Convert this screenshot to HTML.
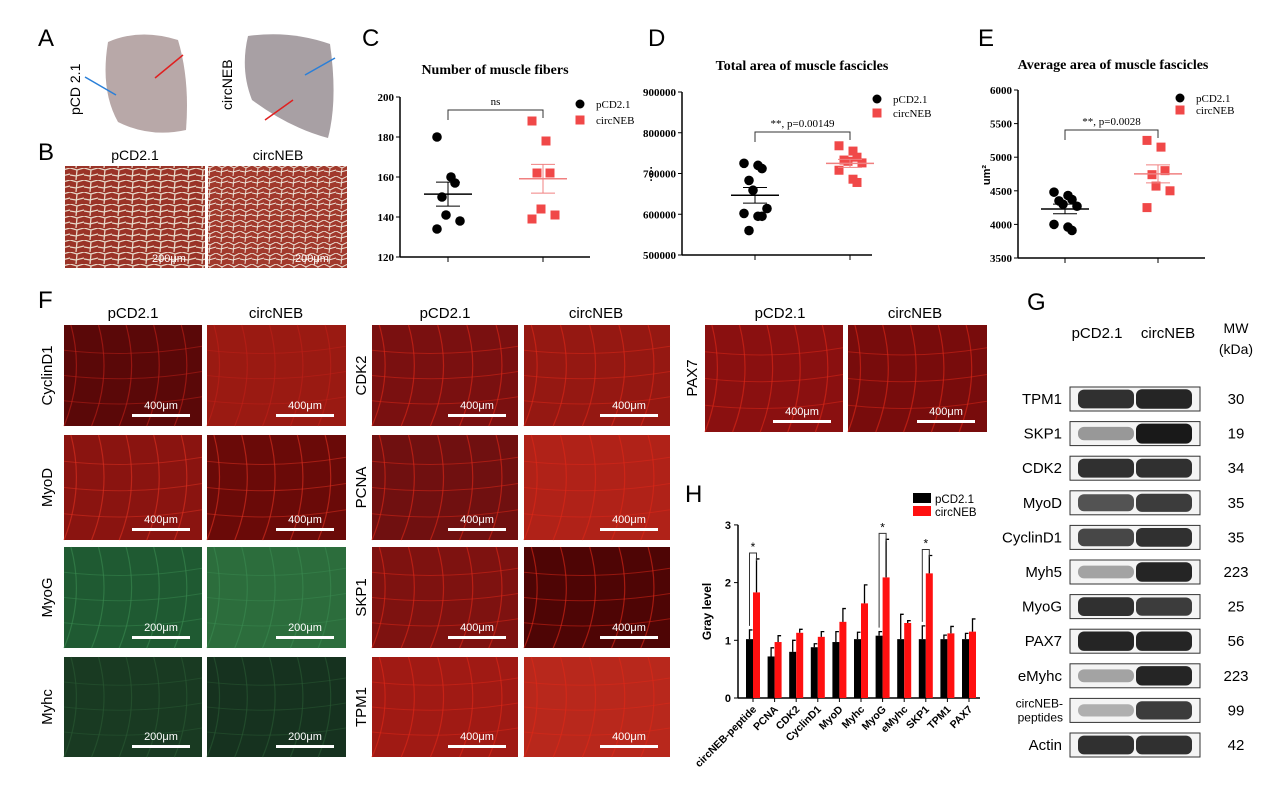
<!DOCTYPE html>
<html><head><meta charset="utf-8">
<style>
body{margin:0;background:#fff;width:1268px;height:803px;overflow:hidden;font-family:"Liberation Sans",sans-serif}
svg{position:absolute;left:0;top:0}
</style></head>
<body>
<svg id="fig" width="1268" height="803" viewBox="0 0 1268 803" xmlns="http://www.w3.org/2000/svg">
<defs>
<pattern id="histo" width="14" height="12" patternUnits="userSpaceOnUse">
<rect width="14" height="12" fill="#9a3327"/>
<path d="M0 0 L7 2 L14 0 M7 2 L6 12 M0 7 L6 8 L14 6" stroke="#e8d8c8" stroke-width="1.3" fill="none"/>
</pattern>
<pattern id="histo2" width="12" height="11" patternUnits="userSpaceOnUse">
<rect width="12" height="11" fill="#a1392c"/>
<path d="M0 0 L6 3 L12 0 M6 3 L5 11 M0 6 L5 7 L12 5" stroke="#eee4d8" stroke-width="1" fill="none"/>
</pattern>
</defs>
<g id="root"></g>
</svg>
<script>
// ---------- Panel C data ----------
const cPCD = [180,160,157,150,141,138,134];
const cNEB = [188,178,162,162,144,141,139];
const cTicks = [120,140,160,180,200];
// ---------- Panel D data ----------
const dPCD = [725,720,712,683,659,614,602,595,595,560];
const dNEB = [768,755,740,733,730,726,708,686,678];
const dTicks = [500000,600000,700000,800000,900000];
// ---------- Panel E data ----------
const ePCD = [4480,4430,4370,4350,4300,4270,4000,3960,3910];
const eNEB = [5250,5150,4800,4740,4570,4500,4250];
const eTicks = [3500,4000,4500,5000,5500,6000];
// ---------- Panel H data ----------
const hCats = ["circNEB-peptide","PCNA","CDK2","CyclinD1","MyoD","Myhc","MyoG","eMyhc","SKP1","TPM1","PAX7"];
const hPCD = [1.02,0.72,0.80,0.88,0.97,1.02,1.08,1.02,1.02,1.02,1.02];
const hPCDerr = [0.16,0.15,0.20,0.06,0.18,0.12,0.07,0.43,0.23,0.07,0.10];
const hNEB = [1.83,0.97,1.13,1.06,1.32,1.64,2.09,1.30,2.16,1.12,1.15];
const hNEBerr = [0.58,0.11,0.06,0.09,0.23,0.32,0.66,0.04,0.31,0.12,0.22];
const hTicks = [0,1,2,3];
// ---------- Panel G data ----------
const gProteins = ["TPM1","SKP1","CDK2","MyoD","CyclinD1","Myh5","MyoG","PAX7","eMyhc","circNEB-peptides","Actin"];
const gMW = ["30","19","34","35","35","223","25","56","223","99","42"];
const gIntPCD = [0.9,0.45,0.9,0.75,0.8,0.4,0.9,0.95,0.4,0.35,0.9];
const gIntNEB = [0.95,1.0,0.9,0.85,0.9,0.95,0.85,0.95,0.95,0.85,0.9];

const NS="http://www.w3.org/2000/svg";
const root=document.getElementById('root');
function el(tag,attrs,parent,text){const e=document.createElementNS(NS,tag);for(const k in attrs)e.setAttribute(k,attrs[k]);if(text!==undefined)e.textContent=text;(parent||root).appendChild(e);return e;}
function grp(name,parent){const g=el('g',{},parent);


return g;}

// panel letters
[["A",38,46],["B",38,160],["C",362,46],["D",648,46],["E",978,46],["F",38,308],["G",1027,310],["H",685,502]].forEach(p=>{
 const t=el('text',{x:p[1],y:p[2],'font-size':24,fill:'#000'},root,p[0]);
 
 
});

// ---------- Panel A photos ----------
const gA=grp('panel-a-photos');
el('path',{d:'M108 42 Q140 28 178 40 Q190 80 186 130 Q150 138 118 122 Q100 90 108 42Z',fill:'#b8a8a8'},gA);
el('path',{d:'M248 36 Q290 30 330 44 Q338 100 328 138 Q290 128 252 100 Q240 70 248 36Z',fill:'#a8a0a4'},gA);
el('line',{x1:85,y1:77,x2:116,y2:95,stroke:'#2a7fd8','stroke-width':1.5},gA);
el('line',{x1:183,y1:55,x2:155,y2:78,stroke:'#e02020','stroke-width':1.5},gA);
el('line',{x1:335,y1:58,x2:305,y2:75,stroke:'#2a7fd8','stroke-width':1.5},gA);
el('line',{x1:265,y1:120,x2:293,y2:100,stroke:'#e02020','stroke-width':1.5},gA);
el('text',{x:0,y:0,'font-size':14,transform:'translate(80,115) rotate(-90)'},gA,'pCD 2.1');
el('text',{x:0,y:0,'font-size':14,transform:'translate(232,110) rotate(-90)'},gA,'circNEB');

// ---------- Panel B ----------
const gB=grp('panel-b-histology');
el('text',{x:135,y:160,'font-size':14,'text-anchor':'middle'},gB,'pCD2.1');
el('text',{x:278,y:160,'font-size':14,'text-anchor':'middle'},gB,'circNEB');
el('rect',{x:65,y:166,width:140,height:102,fill:'url(#histo)'},gB);
el('rect',{x:208,y:166,width:139,height:102,fill:'url(#histo2)'},gB);
el('text',{x:152,y:262,'font-size':11,fill:'#fff'},gB,'200μm');
el('text',{x:295,y:262,'font-size':11,fill:'#fff'},gB,'200μm');

// ---------- Scatter panels ----------
function scatter(name,opt){
 const g=grp(name);
 const y=v=>opt.y0+(v-opt.t0)/(opt.t1-opt.t0)*(opt.y1-opt.y0);
 el('text',{x:opt.tc,y:opt.ty,'font-size':14,'font-weight':'bold','font-family':'Liberation Serif,serif','text-anchor':'middle'},g,opt.title);
 el('line',{x1:opt.ax,y1:opt.y1,x2:opt.ax,y2:opt.y0,stroke:'#000','stroke-width':1.5},g);
 el('line',{x1:opt.ax,y1:opt.y0,x2:opt.xe,y2:opt.y0,stroke:'#000','stroke-width':1.5},g);
 opt.ticks.forEach(t=>{const yy=y(t);
  el('line',{x1:opt.ax-4,y1:yy,x2:opt.ax,y2:yy,stroke:'#000'},g);
  el('text',{x:opt.ax-6,y:yy+4,'font-size':11,'font-weight':'bold','font-family':'Liberation Serif,serif','text-anchor':'end'},g,String(t));});
 [opt.x1,opt.x2].forEach(xx=>el('line',{x1:xx,y1:opt.y0,x2:xx,y2:opt.y0+5,stroke:'#000'},g));
 function plot(arr,cx,col,sq){
  arr.forEach((v,i)=>{const dx=((i%3)-1)*9+(i%2?3:-2);const vv=v*opt.mult;
   const m=sq?el('rect',{x:cx+dx-4.5,y:y(vv)-4.5,width:9,height:9,fill:col},g):el('circle',{cx:cx+dx,cy:y(vv),r:4.8,fill:col},g);
   
   });
  const vals=arr.map(v=>v*opt.mult);const mean=vals.reduce((a,b)=>a+b)/vals.length;
  const sd=Math.sqrt(vals.reduce((a,b)=>a+(b-mean)**2,0)/(vals.length-1))/Math.sqrt(vals.length);
  const lc=sq?'#f08080':'#000';
  el('line',{x1:cx-24,y1:y(mean),x2:cx+24,y2:y(mean),stroke:lc,'stroke-width':1.5},g);
  el('line',{x1:cx,y1:y(mean-sd),x2:cx,y2:y(mean+sd),stroke:lc},g);
  el('line',{x1:cx-12,y1:y(mean+sd),x2:cx+12,y2:y(mean+sd),stroke:lc},g);
  el('line',{x1:cx-12,y1:y(mean-sd),x2:cx+12,y2:y(mean-sd),stroke:lc},g);
 }
 plot(opt.a,opt.x1,'#000',false);plot(opt.b,opt.x2,'#f04848',true);
 el('path',{d:`M${opt.x1} ${opt.by+10} V${opt.by} H${opt.x2} V${opt.by+8}`,fill:'none',stroke:'#333'},g);
 el('text',{x:(opt.x1+opt.x2)/2,y:opt.by-5,'font-size':11,'font-family':'Liberation Serif,serif','text-anchor':'middle'},g,opt.sig);
 el('circle',{cx:opt.lx,cy:opt.ly,r:4.5,fill:'#000'},g);
 el('rect',{x:opt.lx-4.5,y:opt.ly+opt.ld-4.5,width:9,height:9,fill:'#f04848'},g);
 el('text',{x:opt.lx+16,y:opt.ly+4,'font-size':11,'font-family':'Liberation Serif,serif'},g,'pCD2.1');
 el('text',{x:opt.lx+16,y:opt.ly+opt.ld+4,'font-size':11,'font-family':'Liberation Serif,serif'},g,'circNEB');
 if(opt.yl)el('text',{x:0,y:0,'font-size':11,'font-weight':'bold',transform:`translate(${opt.ylx},${opt.yly}) rotate(-90)`,'text-anchor':'middle'},g,opt.yl);
 return g;
}
scatter('panel-c-muscle-fibers',{title:'Number of muscle fibers',tc:495,ty:74,ax:400,xe:590,y0:257,y1:97,t0:120,t1:200,ticks:cTicks,x1:448,x2:543,a:cPCD,b:cNEB,mult:1,by:110,sig:'ns',lx:580,ly:104,ld:16});
scatter('panel-d-total-area',{title:'Total area of muscle fascicles',tc:802,ty:70,ax:682,xe:872,y0:255,y1:92,t0:500000,t1:900000,ticks:dTicks,x1:755,x2:850,a:dPCD,b:dNEB,mult:1000,by:132,sig:'**, p=0.00149',lx:877,ly:99,ld:14,yl:'.....',ylx:652,yly:174});
scatter('panel-e-average-area',{title:'Average area of muscle fascicles',tc:1113,ty:69,ax:1018,xe:1205,y0:258,y1:90,t0:3500,t1:6000,ticks:eTicks,x1:1065,x2:1158,a:ePCD,b:eNEB,mult:1,by:130,sig:'**, p=0.0028',lx:1180,ly:98,ld:12,yl:'um²',ylx:990,yly:175});

// ---------- Panel F micrographs ----------
const gF=grp('panel-f-immunofluorescence');
function micro(x,y,w,h,col,hi,scale){
 const r=el('rect',{x:x,y:y,width:w,height:h,fill:col},gF);
 
 
 for(let i=0;i<5;i++){el('path',{d:`M${x+w*(i*0.2+0.05)} ${y} Q${x+w*(i*0.2+0.15)} ${y+h/2} ${x+w*(i*0.2)} ${y+h}`,stroke:hi,'stroke-width':1.2,fill:'none',opacity:0.6},gF);}
 for(let j=1;j<4;j++){el('path',{d:`M${x} ${y+h*j/4} Q${x+w/2} ${y+h*j/4+8} ${x+w} ${y+h*j/4-4}`,stroke:hi,'stroke-width':1,fill:'none',opacity:0.5},gF);}
 el('rect',{x:x+w-70,y:y+h-12,width:58,height:3,fill:'#fff'},gF);
 el('text',{x:x+w-41,y:y+h-17,'font-size':11,fill:'#fff','text-anchor':'middle'},gF,scale);
}
const rowsY=[325,435,547,657],rowH=[101,105,101,100];
const colL=[[64,138],[207,139]],colM=[[372,146],[524,146]];
const leftCols=[["#5a0808","#9a1a12"],["#8a1410","#6a0a08"],["#1f5a32","#2c6d3c"],["#193a22","#16321f"]];
const leftHi=["#c02018","#e03020","#3a8a50","#2a5a34"];
const midCols=[["#7a1010","#951812"],["#701010","#b02218"],["#7e1210","#4e0505"],["#a01a14","#b8281c"]];
const leftNames=["CyclinD1","MyoD","MyoG","Myhc"],midNames=["CDK2","PCNA","SKP1","TPM1"];
rowsY.forEach((yy,i)=>{
 const sc=(i>=2)?'200μm':'400μm';
 micro(colL[0][0],yy,colL[0][1],rowH[i],leftCols[i][0],leftHi[i],sc);
 micro(colL[1][0],yy,colL[1][1],rowH[i],leftCols[i][1],leftHi[i],sc);
 micro(colM[0][0],yy,colM[0][1],rowH[i],midCols[i][0],'#e02818','400μm');
 micro(colM[1][0],yy,colM[1][1],rowH[i],midCols[i][1],'#e02818','400μm');
 el('text',{x:0,y:0,'font-size':15,transform:`translate(52,${yy+rowH[i]/2}) rotate(-90)`,'text-anchor':'middle'},gF,leftNames[i]);
 el('text',{x:0,y:0,'font-size':15,transform:`translate(366,${yy+rowH[i]/2}) rotate(-90)`,'text-anchor':'middle'},gF,midNames[i]);
});
micro(705,325,138,107,'#8a1010','#e02818','400μm');
micro(848,325,139,107,'#780c0c','#e02818','400μm');
el('text',{x:0,y:0,'font-size':15,transform:'translate(697,378) rotate(-90)','text-anchor':'middle'},gF,'PAX7');
[[133,'pCD2.1'],[276,'circNEB'],[445,'pCD2.1'],[596,'circNEB'],[780,'pCD2.1'],[915,'circNEB']].forEach(h=>el('text',{x:h[0],y:318,'font-size':15,'text-anchor':'middle'},gF,h[1]));

// ---------- Panel G blots ----------
const gG=grp('panel-g-western-blot');
el('text',{x:1097,y:338,'font-size':15,'text-anchor':'middle'},gG,'pCD2.1');
el('text',{x:1168,y:338,'font-size':15,'text-anchor':'middle'},gG,'circNEB');
el('text',{x:1236,y:333,'font-size':14,'text-anchor':'middle'},gG,'MW');
el('text',{x:1236,y:354,'font-size':14,'text-anchor':'middle'},gG,'(kDa)');
gProteins.forEach((p,i)=>{
 const y=387+i*34.6;
 const s=el('rect',{x:1070,y:y,width:130,height:24,fill:'#f4f4f4',stroke:'#333','stroke-width':1},gG);
 
 
 [[1078,gIntPCD[i]],[1136,gIntNEB[i]]].forEach(b=>{
  const v=Math.round(255-230*b[1]);
  el('rect',{x:b[0],y:y+12-4-6*b[1],width:56,height:8+12*b[1],rx:6,fill:`rgb(${v},${v},${v})`},gG);
 });
 if(p==='circNEB-peptides'){
  el('text',{x:1063,y:y+9,'font-size':12,'text-anchor':'end'},gG,'circNEB-');
  el('text',{x:1063,y:y+23,'font-size':12,'text-anchor':'end'},gG,'peptides');
 } else el('text',{x:1062,y:y+17,'font-size':15,'text-anchor':'end'},gG,p);
 el('text',{x:1236,y:y+17,'font-size':15,'text-anchor':'middle'},gG,gMW[i]);
});

// ---------- Panel H bar chart ----------
const gH=grp('panel-h-bar-chart');
const hx0=738,hy0=698,hyPer=57.7,gap=21.6,bw=7;
const hy=v=>hy0-v*hyPer;
const gx=i=>hx0+8+i*gap;
el('line',{x1:hx0,y1:hy(3),x2:hx0,y2:hy0,stroke:'#000','stroke-width':1.5},gH);
el('line',{x1:hx0,y1:hy0,x2:980,y2:hy0,stroke:'#000','stroke-width':1.5},gH);
hTicks.forEach(t=>{el('line',{x1:hx0-4,y1:hy(t),x2:hx0,y2:hy(t),stroke:'#000'},gH);
 el('text',{x:hx0-7,y:hy(t)+4,'font-size':11,'font-weight':'bold','text-anchor':'end'},gH,String(t));});
el('text',{x:0,y:0,'font-size':12,'font-weight':'bold',transform:`translate(711,${hy(1.5)}) rotate(-90)`,'text-anchor':'middle'},gH,'Gray level');
hCats.forEach((c,i)=>{
 const cx=gx(i);
 el('line',{x1:cx+bw,y1:hy0,x2:cx+bw,y2:hy0+4,stroke:'#000'},gH);
 const b1=el('rect',{x:cx,y:hy(hPCD[i]),width:bw,height:hPCD[i]*hyPer,fill:'#000'},gH);
 
 
 const b2=el('rect',{x:cx+bw,y:hy(hNEB[i]),width:bw,height:hNEB[i]*hyPer,fill:'#ff1010'},gH);
 
 
 el('path',{d:`M${cx+bw/2} ${hy(hPCD[i])} V${hy(hPCD[i]+hPCDerr[i])} h3`,stroke:'#000','stroke-width':1.3,fill:'none'},gH);
 el('path',{d:`M${cx+bw*1.5} ${hy(hNEB[i])} V${hy(hNEB[i]+hNEBerr[i])} h3`,stroke:'#000','stroke-width':1.3,fill:'none'},gH);
 el('text',{x:0,y:0,'font-size':10.5,'font-weight':'bold','text-anchor':'end',transform:`translate(${cx+bw+4},${hy0+12}) rotate(-45)`},gH,c);
});
[0,6,8].forEach(i=>{const cx=gx(i);const top=hy(hNEB[i]+hNEBerr[i])-6;
 el('path',{d:`M${cx+bw/2} ${hy(hPCD[i]+hPCDerr[i])-4} V${top} H${cx+bw*1.5} V${top+8}`,stroke:'#333',fill:'none'},gH);
 el('text',{x:cx+bw,y:top-2,'font-size':12,'text-anchor':'middle'},gH,'*');});
el('rect',{x:913,y:493,width:18,height:10,fill:'#000'},gH);
el('rect',{x:913,y:506,width:18,height:10,fill:'#ff1010'},gH);
el('text',{x:935,y:503,'font-size':11.5},gH,'pCD2.1');
el('text',{x:935,y:516,'font-size':11.5},gH,'circNEB');
</script>
</body></html>
